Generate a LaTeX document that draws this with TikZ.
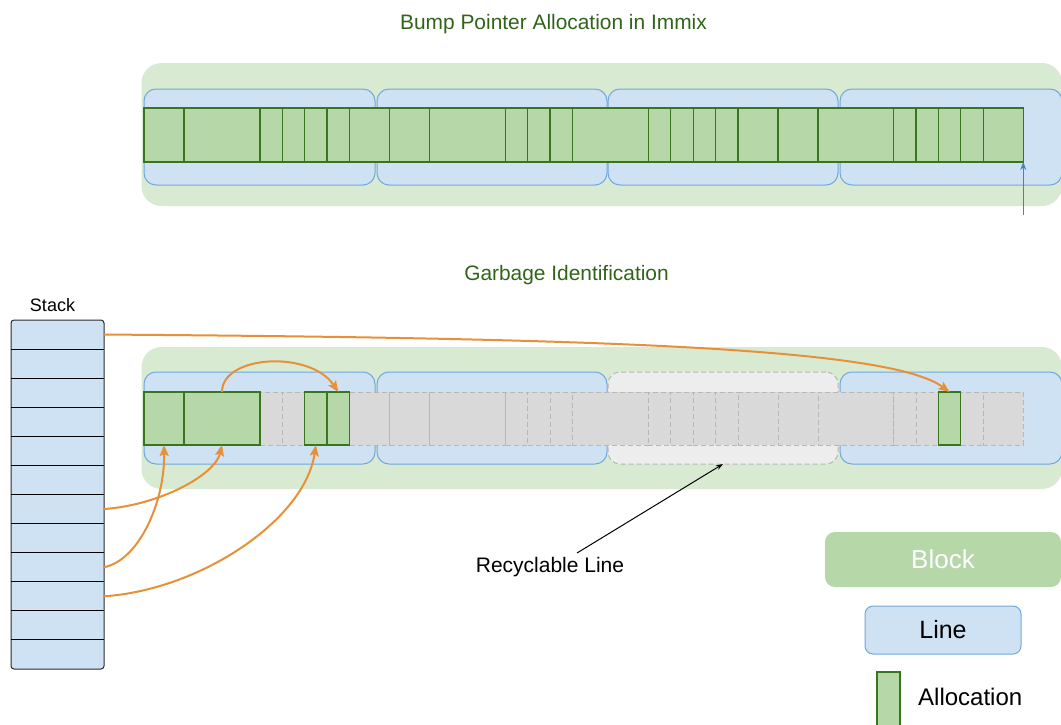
\documentclass[tikz,border=0pt]{standalone}
\usepackage{fontspec}
\setmainfont{Liberation Sans}
\usetikzlibrary{arrows.meta,calc}
\definecolor{blockbg}{HTML}{D9EAD3}
\definecolor{linefill}{HTML}{CFE2F3}
\definecolor{linestroke}{HTML}{6FA8DC}
\definecolor{allocfill}{HTML}{B6D7A8}
\definecolor{allocstroke}{HTML}{38761D}
\definecolor{garbfill}{HTML}{D9D9D9}
\definecolor{garbstroke}{HTML}{B7B7B7}
\definecolor{recycfill}{HTML}{EDEDED}
\definecolor{refcol}{HTML}{E69138}
\definecolor{ptrcol}{HTML}{3D85C6}
\definecolor{titlecol}{HTML}{2F6419}
\definecolor{stackborder}{HTML}{2B2B2B}
\begin{document}
\begin{tikzpicture}[x=1pt,y=-1pt,
  blockbox/.style={fill=blockbg, draw=none, rounded corners=20pt, inner sep=0pt, outer sep=0pt},
  linebox/.style={fill=linefill, draw=linestroke, line width=1pt, rounded corners=12pt, inner sep=0pt, outer sep=0pt},
  recycbox/.style={fill=recycfill, draw=garbstroke, line width=1pt, dash pattern=on 5pt off 3pt, rounded corners=12pt, inner sep=0pt, outer sep=0pt},
  alloccell/.style={fill=allocfill, draw=allocstroke, line width=1.3pt, inner sep=0pt, outer sep=0pt},
  freecell/.style={fill=garbfill, draw=garbstroke, line width=1pt, dash pattern=on 5pt off 3pt, inner sep=0pt, outer sep=0pt},
  stackcell/.style={fill=none, draw=none, inner sep=0pt, outer sep=0pt, minimum width=93pt, minimum height=29.083pt},
  stackbox/.style={fill=linefill, draw=stackborder, line width=1pt, rounded corners=3pt, inner sep=0pt, outer sep=0pt},
  stackline/.style={draw=black, line width=1pt},
  titletext/.style={text=titlecol, font=\fontsize{20.9}{24}\selectfont, inner sep=0pt, anchor=base},
  plaintext/.style={text=black, inner sep=0pt, anchor=base},
  refarrow/.style={draw=refcol, line width=2pt, -{Stealth[length=11pt,width=9pt,inset=2pt]}},
  ptrarrow/.style={draw=ptrcol, line width=1pt, -{Stealth[length=8pt,width=6pt]}},
  recarrow/.style={draw=black, line width=1pt, -{Stealth[length=7pt,width=5pt]}}
]
\useasboundingbox (0,0) rectangle (1061,724);

% ---------- titles ----------
\node[titletext] (title1) at (553.5,29) {Bump Pointer Allocation in Immix};
\node[titletext] (title2) at (566.5,280.5) {Garbage Identification};

% ---------- top: bump pointer allocation ----------
\node[blockbox, minimum width=920.5pt, minimum height=143pt] (blk1) at (601.75,134.5) {};
\node[linebox, minimum width=231pt, minimum height=96pt] (tl1) at (259.5,137) {};
\node[linebox, minimum width=230pt, minimum height=96pt] (tl2) at (492,137) {};
\node[linebox, minimum width=230pt, minimum height=96pt] (tl3) at (723,137) {};
\node[linebox, minimum width=222pt, minimum height=96pt] (tl4) at (951,137) {};

\foreach \a/\b [count=\i] in {144/184,184/260,260/282.3,282.3/304.7,304.7/327,327/349.7,349.7/389.7,389.7/429.7,429.7/505.7,505.7/527.7,527.7/550,550/572.3,572.3/648.3,648.3/670.7,670.7/693.3,693.3/715.7,715.7/738,738/778,778/818,818/893.7,893.7/916,916/938.3,938.3/960.7,960.7/983.3,983.3/1023.3} {
  \node[alloccell, minimum width={(\b-\a)*1pt}, minimum height=54pt] (t\i) at ({(\a+\b)/2},135) {};
}
\coordinate (bumpptr) at (1023.3,215);
\draw[ptrarrow] (bumpptr) -- (t25.south east);

% ---------- bottom: garbage identification ----------
\node[blockbox, minimum width=920.5pt, minimum height=142pt] (blk2) at (601.75,418) {};
\node[linebox, minimum width=231pt, minimum height=92pt] (bl1) at (259.5,418) {};
\node[linebox, minimum width=230pt, minimum height=92pt] (bl2) at (492,418) {};
\node[recycbox, minimum width=230pt, minimum height=92pt] (recyc) at (723,418) {};
\node[linebox, minimum width=222pt, minimum height=92pt] (bl4) at (951,418) {};

\foreach \a/\b [count=\i] in {144/184,184/260,260/282.3,282.3/304.7,304.7/327,327/349.7,349.7/389.7,389.7/429.7,429.7/505.7,505.7/527.7,527.7/550,550/572.3,572.3/648.3,648.3/670.7,670.7/693.3,693.3/715.7,715.7/738,738/778,778/818,818/893.7,893.7/916,916/938.3,938.3/960.7,960.7/983.3,983.3/1023.3} {
  \node[freecell, minimum width={(\b-\a)*1pt}, minimum height=53pt] (b\i) at ({(\a+\b)/2},418.5) {};
}
\node[alloccell, minimum width=40pt, minimum height=53pt] (g1) at (164,418.5) {};
\node[alloccell, minimum width=76pt, minimum height=53pt] (g2) at (222,418.5) {};
\node[alloccell, minimum width=22.3pt, minimum height=53pt] (g5) at (315.85,418.5) {};
\node[alloccell, minimum width=22.7pt, minimum height=53pt] (g6) at (338.35,418.5) {};
\node[alloccell, minimum width=22.4pt, minimum height=53pt] (g23) at (949.5,418.5) {};

% ---------- stack ----------
\node[plaintext, font=\fontsize{18}{21}\selectfont] (stacklabel) at (52.5,311) {Stack};
\node[stackbox, minimum width=93pt, minimum height=349pt] (stack) at (57.5,494.5) {};
\foreach \i in {1,...,12} {
  \node[stackcell] (s\i) at (57.5,{320+29.083*(\i-0.5)}) {};
}
\foreach \i in {1,...,11} {
  \draw[stackline] (s\i.south west) -- (s\i.south east);
}

% ---------- references ----------
\draw[refarrow] (s1.east) .. controls (600,338) and (890,348) .. (g23.north);
\draw[refarrow] (g2.north) .. controls (222,355) and (310,350) .. (g6.north);
\draw[refarrow] (s7.east) .. controls (160,505) and (215,475) .. (g2.south);
\draw[refarrow] (s9.east) .. controls (140,560) and (165,500) .. (g1.south);
\draw[refarrow] (s10.east) .. controls (200,590) and (305,520) .. (g5.south);

% ---------- recyclable line label ----------
\node[plaintext, font=\fontsize{21}{24}\selectfont] (reclabel) at (550,572.3) {Recyclable Line};
\coordinate (recstart) at (577,553);
\draw[recarrow] (recstart) -- (recyc.south);

% ---------- legend ----------
\node[fill=allocfill, draw=none, rounded corners=10pt, minimum width=236pt, minimum height=55pt, inner sep=0pt, text=white, font=\fontsize{26}{30}\selectfont] (legblock) at (943,559.5) {Block};
\node[linebox, rounded corners=8pt, minimum width=156pt, minimum height=48pt, font=\fontsize{25}{29}\selectfont] (legline) at (943,630) {Line};
\node[alloccell, minimum width=23pt, minimum height=60pt, anchor=north west] (legalloc) at (877,672) {};
\node[plaintext, anchor=base west, font=\fontsize{24}{28}\selectfont] (legalloctext) at (918,705) {Allocation};
\end{tikzpicture}
\end{document}
